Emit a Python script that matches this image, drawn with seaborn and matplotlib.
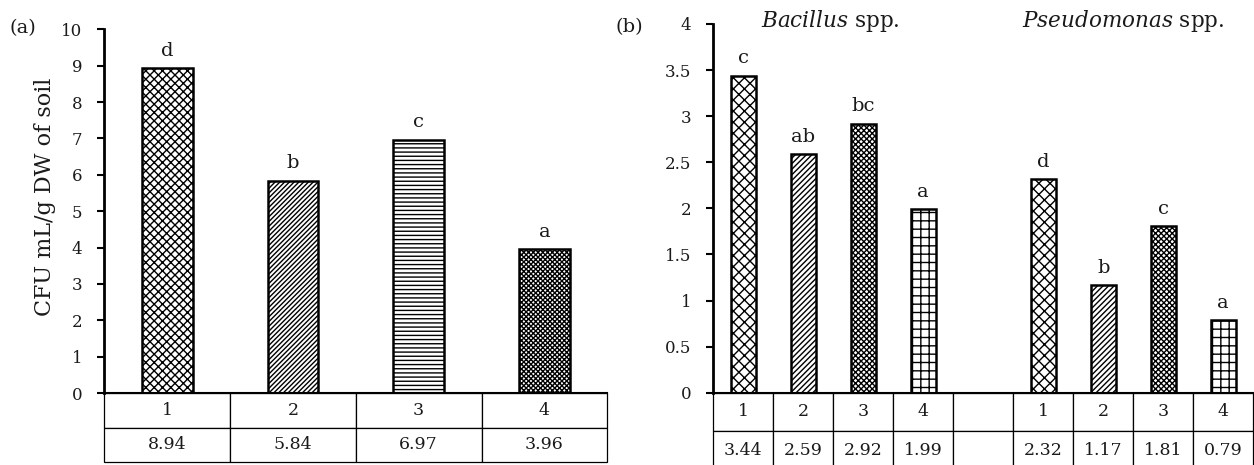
import matplotlib
matplotlib.use("Agg")
import matplotlib.pyplot as plt
import seaborn as sns
import pandas as pd

# ---- data ----
a_categories = ["1", "2", "3", "4"]
a_values = [8.94, 5.84, 6.97, 3.96]
a_letters = ["d", "b", "c", "a"]

b_groups = ["Bacillus", "Pseudomonas"]
b_treatments = ["1", "2", "3", "4"]
b_bacillus = [3.44, 2.59, 2.92, 1.99]
b_pseudomonas = [2.32, 1.17, 1.81, 0.79]
b_bac_letters = ["c", "ab", "bc", "a"]
b_pse_letters = ["d", "b", "c", "a"]

ylabel = "CFU mL/g DW of soil"

sns.set_theme(style="white")
plt.rcParams["font.family"] = ["DejaVu Serif"]
plt.rcParams["hatch.linewidth"] = 1.0
plt.rcParams["mathtext.fontset"] = "dejavuserif"

W, H = 1254, 465
fig = plt.figure(figsize=(W / 100, H / 100), dpi=100)

def px_axes(left, right, top, bottom):
    return fig.add_axes([left / W, 1 - bottom / H, (right - left) / W, (bottom - top) / H])

TXT = "#1a1a1a"

def style_axis(ax, ymax, ystep):
    ax.set_ylim(0, ymax)
    ticks = [i * ystep for i in range(int(round(ymax / ystep)) + 1)]
    ax.set_yticks(ticks)
    ax.set_yticklabels([("%g" % t) for t in ticks], fontsize=12, color=TXT)
    ax.tick_params(axis="y", length=5, width=1.5, pad=11, direction="out", left=True, color="black")
    ax.tick_params(axis="x", length=0)
    ax.set_xticks([])
    ax.set_xlabel("")
    ax.set_ylabel("")
    for s in ["top", "right"]:
        ax.spines[s].set_visible(False)
    ax.spines["left"].set_linewidth(2.0)
    ax.spines["left"].set_color("black")
    ax.spines["bottom"].set_linewidth(1.5)
    ax.spines["bottom"].set_color("black")

def add_table(ax, rows, h, fs):
    tbl = ax.table(cellText=rows, cellLoc="center", bbox=[0, -h, 1, h])
    tbl.auto_set_font_size(False)
    tbl.set_fontsize(fs)
    for cell in tbl.get_celld().values():
        cell.set_linewidth(0.9)
        cell.set_edgecolor("black")
        cell.get_text().set_color(TXT)
    return tbl

def hatch_bars(ax, hatches):
    patches = sorted(ax.patches, key=lambda p: p.get_x())
    for p, h in zip(patches, hatches):
        p.set_hatch(h)
        p.set_facecolor("white")
        p.set_edgecolor("black")
        p.set_linewidth(1.8)

# ---- panel (a) ----
axa = px_axes(104.3, 607.3, 29.3, 393.0)
dfa = pd.DataFrame({"cat": a_categories, "val": a_values})
sns.barplot(data=dfa, x="cat", y="val", order=a_categories, width=0.404,
            color="white", edgecolor="black", linewidth=1.8, errorbar=None, ax=axa)
hatch_bars(axa, ["xxxx", "///////", "----", "xxxxxxx"])
axa.set_xlim(-0.5, len(a_categories) - 0.5)
style_axis(axa, 10, 1)
for i, (v, l) in enumerate(zip(a_values, a_letters)):
    axa.annotate(l, (i, v), xytext=(0, 6), textcoords="offset points",
                 ha="center", va="bottom", fontsize=14, color=TXT)
add_table(axa, [a_categories, ["%.2f" % v for v in a_values]], 69.3 / 363.7, 12.5)

# ---- panel (b) ----
axb = px_axes(713.3, 1253.3, 24.0, 392.7)
b_order = ["B" + t for t in b_treatments] + ["gap"] + ["P" + t for t in b_treatments]
dfb = pd.DataFrame({
    "cat": ["B" + t for t in b_treatments] + ["P" + t for t in b_treatments],
    "val": b_bacillus + b_pseudomonas,
})
sns.barplot(data=dfb, x="cat", y="val", order=b_order, width=0.42,
            color="white", edgecolor="black", linewidth=1.8, errorbar=None, ax=axb)
hatch_bars(axb, ["xxx", "//////", "xxxxxx", "++",
                 "xxx", "//////", "xxxxxx", "++"])
axb.set_xlim(-0.5, len(b_order) - 0.5)
style_axis(axb, 4, 0.5)
b_vals_all = b_bacillus + [None] + b_pseudomonas
b_letters_all = b_bac_letters + [None] + b_pse_letters
for i, (v, l) in enumerate(zip(b_vals_all, b_letters_all)):
    if v is None:
        continue
    axb.annotate(l, (i, v), xytext=(0, 6), textcoords="offset points",
                 ha="center", va="bottom", fontsize=14, color=TXT)
b_row1 = b_treatments + [""] + b_treatments
b_row2 = ["%.2f" % v for v in b_bacillus] + [""] + ["%.2f" % v for v in b_pseudomonas]
add_table(axb, [b_row1, b_row2], 77.0 / 368.7, 12.5)

# ---- texts ----
fig.text(45 / W, 1 - 196.5 / H, ylabel, rotation=90, ha="center", va="center",
         fontsize=16, color=TXT)
fig.text(22.5 / W, 1 - 28 / H, "(a)", ha="center", va="center", fontsize=14, color=TXT)
fig.text(629 / W, 1 - 27 / H, "(b)", ha="center", va="center", fontsize=14, color=TXT)
fig.text(830.5 / W, 1 - 27 / H, r"$\it{Bacillus}$ spp.", ha="center", va="baseline",
         fontsize=15.5, color=TXT)
fig.text(1123 / W, 1 - 27 / H, r"$\it{Pseudomonas}$ spp.", ha="center", va="baseline",
         fontsize=15.5, color=TXT)

fig.savefig("out.png", dpi=100)
